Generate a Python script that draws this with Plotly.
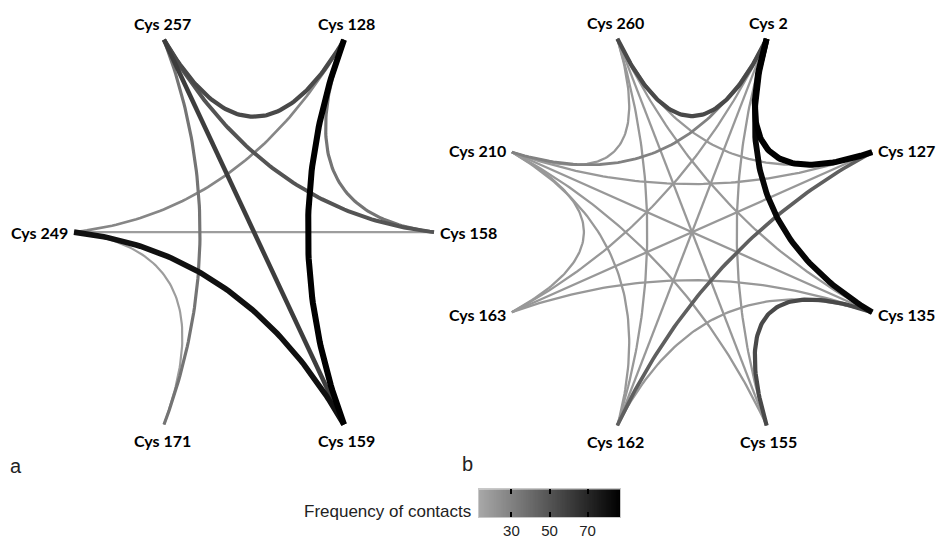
import numpy as np
import plotly.graph_objects as go
from plotly.colors import sample_colorscale

# ---------------- data ----------------
# panel a: nodes listed counter-clockwise starting at 0 degrees
nodes_a = ["Cys 158", "Cys 128", "Cys 257", "Cys 249", "Cys 171", "Cys 159"]
src_a = ["Cys 257", "Cys 257", "Cys 257", "Cys 257", "Cys 128",
         "Cys 128", "Cys 128", "Cys 249", "Cys 249", "Cys 249"]
dst_a = ["Cys 128", "Cys 158", "Cys 159", "Cys 171", "Cys 249",
         "Cys 159", "Cys 158", "Cys 158", "Cys 159", "Cys 171"]
freq_a = [55, 50, 60, 36, 28, 88, 36, 18, 80, 18]

# panel b: nodes listed counter-clockwise starting at 22.5 degrees
nodes_b = ["Cys 127", "Cys 2", "Cys 260", "Cys 210",
           "Cys 163", "Cys 162", "Cys 155", "Cys 135"]
src_b = ["Cys 2", "Cys 2", "Cys 260", "Cys 135", "Cys 127", "Cys 2",
         "Cys 260", "Cys 210", "Cys 210", "Cys 210", "Cys 210", "Cys 210",
         "Cys 260", "Cys 260", "Cys 260", "Cys 260", "Cys 2", "Cys 2",
         "Cys 2", "Cys 163", "Cys 163", "Cys 162"]
dst_b = ["Cys 127", "Cys 135", "Cys 2", "Cys 155", "Cys 162", "Cys 210",
         "Cys 210", "Cys 163", "Cys 127", "Cys 135", "Cys 155", "Cys 162",
         "Cys 162", "Cys 155", "Cys 135", "Cys 127", "Cys 162", "Cys 155",
         "Cys 163", "Cys 127", "Cys 135", "Cys 135"]
freq_b = [88, 84, 55, 55, 45, 30,
          20, 20, 20, 20, 20, 20,
          20, 20, 20, 20, 20, 20,
          20, 20, 20, 20]

cb_title = "Frequency of contacts"
cb_ticks = [30, 50, 70]
cmin, cmax = 13, 87
colorscale = [[0, "#a8a8a8"], [1, "#000000"]]

# ---------------- helpers ----------------
def positions(nodes, start_deg):
    n = len(nodes)
    pos = {}
    for i, nm in enumerate(nodes):
        ang = np.deg2rad(start_deg + i * 360.0 / n)
        pos[nm] = (np.cos(ang), np.sin(ang), ang)
    return pos

def bezier(p0, p1, k=0.2, npts=80):
    p0 = np.array(p0); p1 = np.array(p1)
    c = k * (p0 + p1) / 2.0
    t = np.linspace(0, 1, npts)[:, None]
    pts = (1 - t) ** 2 * p0 + 2 * t * (1 - t) * c + t ** 2 * p1
    return pts[:, 0], pts[:, 1]

def color_of(f):
    v = (f - cmin) / (cmax - cmin)
    v = min(max(v, 0), 1)
    return sample_colorscale(colorscale, [v])[0]

fig = go.Figure()

label_font = dict(family="Lato, 'Open Sans', sans-serif", size=16, color="#000000")

def draw_panel(nodes, start, src, dst, freq, xa, ya):
    pos = positions(nodes, start)
    order = np.argsort(freq, kind="stable")
    for i in order:
        a, b, f = src[i], dst[i], freq[i]
        x, y = bezier(pos[a][:2], pos[b][:2])
        fig.add_trace(go.Scatter(
            x=x, y=y, mode="lines", xaxis=xa, yaxis=ya,
            line=dict(color=color_of(f), width=1.2 + f * 0.055),
            hoverinfo="text", text=f"{a} – {b}: {f}", showlegend=False))
    for nm, (x, y, ang) in pos.items():
        c, s = np.cos(ang), np.sin(ang)
        xanchor = "left" if c > 0.7 else ("right" if c < -0.7 else "center")
        yanchor = "bottom" if s > 0.7 else ("top" if s < -0.7 else "middle")
        fig.add_annotation(x=x, y=y, xref=xa, yref=ya, text=f"<b>{nm}</b>",
                           showarrow=False, xanchor=xanchor, yanchor=yanchor,
                           xshift=4 * c, yshift=5 * s, font=label_font)

draw_panel(nodes_a, 0, src_a, dst_a, freq_a, "x", "y")
draw_panel(nodes_b, 22.5, src_b, dst_b, freq_b, "x2", "y2")

# colour bar drawn as a heatmap strip
cb_x = np.linspace(cmin, cmax, 200)
fig.add_trace(go.Heatmap(x=cb_x, y=[0], z=[cb_x], colorscale=colorscale,
                         zmin=cmin, zmax=cmax, showscale=False,
                         xaxis="x3", yaxis="y3", hoverinfo="skip"))

W, H = 938, 539
def dom(lo, hi, total):
    return [lo / total, hi / total]

# panel a: centre (254,233) px, rx=180, ry=223
ax_a = dict(range=[-1.15, 1.15], domain=dom(254 - 1.15 * 180, 254 + 1.15 * 180, W))
ay_a = dict(range=[-1.04, 1.04], domain=dom(H - (233 + 1.04 * 223), H - (233 - 1.04 * 223), H))
# panel b: centre (692,233) px, rx=195, ry=210
ax_b = dict(range=[-1.12, 1.12], domain=dom(692 - 1.12 * 195, 692 + 1.12 * 195, W))
ay_b = dict(range=[-1.1, 1.1], domain=dom(H - (233 + 1.1 * 210), H - (233 - 1.1 * 210), H))

hidden = dict(visible=False, showgrid=False, zeroline=False, fixedrange=True)

fig.update_layout(
    width=W, height=H, margin=dict(l=0, r=0, t=0, b=0),
    paper_bgcolor="white", plot_bgcolor="rgba(0,0,0,0)",
    xaxis=dict(**hidden, **ax_a), yaxis=dict(**hidden, **ay_a),
    xaxis2=dict(**hidden, **ax_b, anchor="y2"), yaxis2=dict(**hidden, **ay_b, anchor="x2"),
    xaxis3=dict(range=[cmin, cmax], domain=dom(479, 620, W), anchor="y3",
                tickvals=cb_ticks, ticks="inside", ticklen=5, tickwidth=1.5,
                tickcolor="black", mirror="ticks", showline=True,
                linecolor="#c8c8c8", linewidth=1, showgrid=False, zeroline=False,
                tickfont=dict(family="Liberation Sans, Arial, sans-serif", size=15, color="#222"),
                fixedrange=True),
    yaxis3=dict(range=[-0.5, 0.5], domain=dom(H - 519, H - 491, H), anchor="x3",
                showticklabels=False, ticks="", showline=True, mirror=True,
                linecolor="#c8c8c8", linewidth=1, showgrid=False, zeroline=False,
                fixedrange=True),
)

fig.add_annotation(x=473 / W, y=1 - 513 / H, xref="paper", yref="paper",
                   text=cb_title, showarrow=False, xanchor="right", yanchor="middle",
                   font=dict(family="Liberation Sans, Arial, sans-serif", size=17, color="#222"))
fig.add_annotation(x=8 / W, y=1 - 468 / H, xref="paper", yref="paper", text="a",
                   showarrow=False, xanchor="left", yanchor="middle",
                   font=dict(family="Liberation Sans, Arial, sans-serif", size=20, color="#222"))
fig.add_annotation(x=460 / W, y=1 - 466 / H, xref="paper", yref="paper", text="b",
                   showarrow=False, xanchor="left", yanchor="middle",
                   font=dict(family="Liberation Sans, Arial, sans-serif", size=20, color="#222"))

fig.write_html("out.html",
               config={"displayModeBar": False},
               post_script="document.body.style.margin='0px';"
                           "document.body.style.padding='0px';"
                           "document.body.style.overflow='hidden';")
